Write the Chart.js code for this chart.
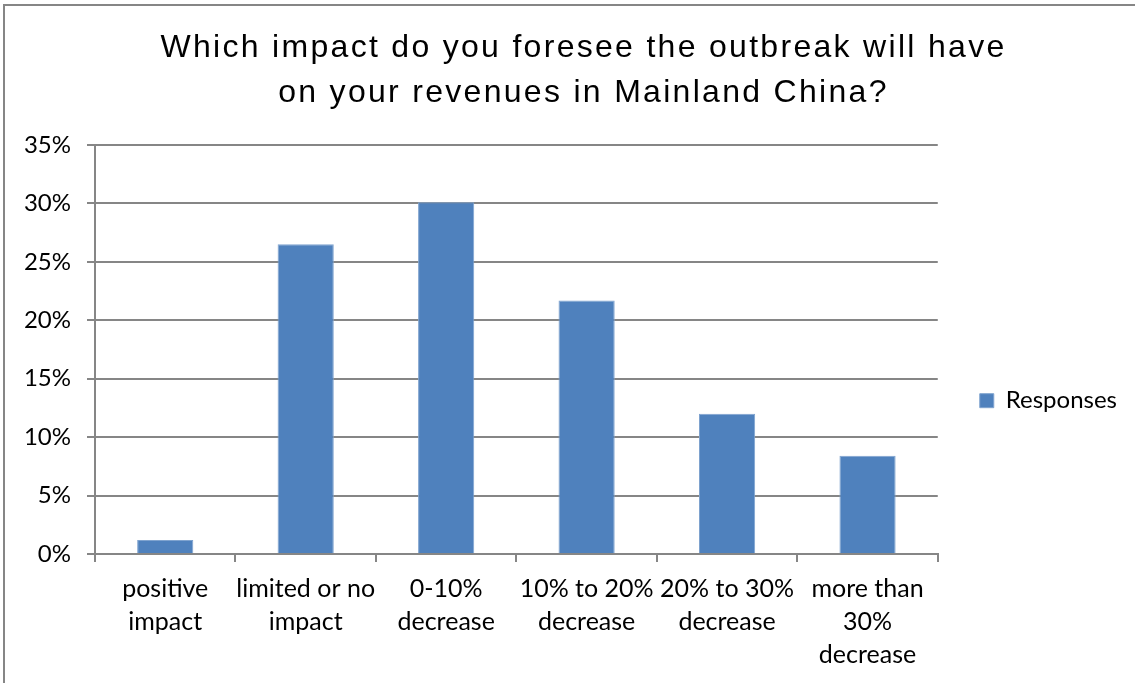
<!DOCTYPE html>
<html>
<head>
<meta charset="utf-8">
<script src="https://cdn.jsdelivr.net/npm/chart.js@4/dist/chart.umd.min.js"></script>
<style>
  html, body { margin: 0; padding: 0; background: #fff; overflow: hidden; }
  #frame {
    position: absolute; left: 3px; top: 4px; width: 1140px; height: 690px;
    border-left: 2px solid #868686; border-top: 2px solid #868686;
  }
  #wrap { position: absolute; left: 0; top: 0; width: 1135px; height: 683px; }
</style>
</head>
<body>
<div id="frame"></div>
<div id="wrap"><canvas id="chart" width="1135" height="683"></canvas></div>
<script>
// chart data
const categories = [
  ["positive", "impact"],
  ["limited or no", "impact"],
  ["0-10%", "decrease"],
  ["10% to 20%", "decrease"],
  ["20% to 30%", "decrease"],
  ["more than", "30%", "decrease"],
];
const responses = [1.2, 26.5, 30.1, 21.7, 12.0, 8.4];
const seriesName = "Responses";
const titleLines = [
  "Which impact do you foresee the outbreak will have",
  "on your revenues in Mainland China?",
];
const yTicks = [0, 5, 10, 15, 20, 25, 30, 35];

const gridColor = "#868686";
const barColor = "#4F81BD";
const labelFont = "Lato, 'Open Sans', sans-serif";

// the title in the original is set a little wider than Arial and sits
// centred on the whole picture, so space the letters and nudge it right
const titleSpacing = {
  id: "titleSpacing",
  afterLayout(chart) {
    const t = chart.titleBlock;
    if (!t || t._spaced) return;
    const draw = t.draw.bind(t);
    t.draw = function (area) {
      chart.ctx.save();
      chart.ctx.letterSpacing = "2.3px";
      chart.ctx.translate(10, 0);
      draw(area);
      chart.ctx.restore();
    };
    t._spaced = true;
  },
};

const ctx = document.getElementById("chart").getContext("2d");
new Chart(ctx, {
  type: "bar",
  data: {
    labels: categories,
    datasets: [
      {
        label: seriesName,
        data: responses,
        backgroundColor: barColor,
        borderColor: "#7fa3cf",
        borderWidth: 1,
        barPercentage: 0.4,
        categoryPercentage: 1.0,
      },
    ],
  },
  plugins: [titleSpacing],
  options: {
    responsive: false,
    animation: false,
    devicePixelRatio: 1,
    layout: { padding: { left: 20, right: 8, top: 0, bottom: 0 } },
    plugins: {
      title: {
        display: true,
        text: titleLines,
        color: "#000",
        font: { family: "'Liberation Sans', Arial, sans-serif", size: 32, weight: "normal", lineHeight: 1.406 },
        padding: { top: 26, bottom: 29 },
      },
      legend: {
        display: true,
        position: "right",
        title: { display: true, text: " ", font: { size: 17 }, padding: 49 },
        labels: {
          color: "#000",
          boxWidth: 14,
          boxHeight: 14,
          padding: 42,
          font: { family: labelFont, size: 24 },
        },
      },
      tooltip: { enabled: false },
    },
    scales: {
      x: {
        grid: {
          display: true,
          drawOnChartArea: false,
          drawTicks: true,
          tickLength: 8,
          color: gridColor,
          lineWidth: 2,
          offset: true,
        },
        border: { display: true, color: gridColor, width: 2 },
        ticks: {
          color: "#000",
          font: { family: labelFont, size: 25, lineHeight: "33px" },
          padding: 10,
          maxRotation: 0,
          autoSkip: false,
        },
        afterFit(scale) { scale.height = 129; },
      },
      y: {
        min: 0,
        max: 35,
        afterBuildTicks(scale) { scale.ticks = yTicks.map((v) => ({ value: v })); },
        grid: { color: gridColor, lineWidth: 2, tickLength: 8, drawTicks: true },
        border: { display: true, color: gridColor, width: 2 },
        ticks: {
          color: "#000",
          font: { family: labelFont, size: 24 },
          padding: 16,
          callback: (v) => v + "%",
        },
        afterFit(scale) { scale.width = 75; },
      },
    },
  },
});
</script>
</body>
</html>
